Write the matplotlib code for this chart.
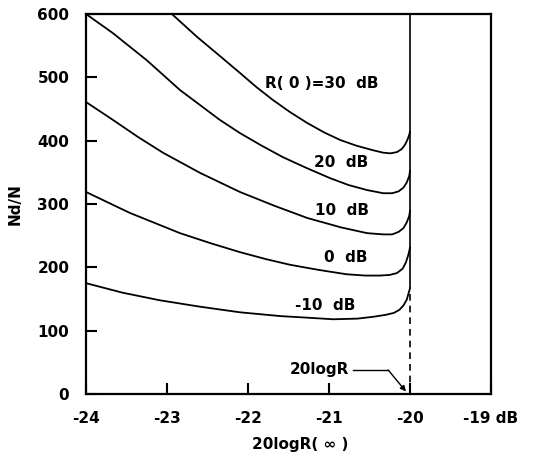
import matplotlib
matplotlib.use("Agg")
from matplotlib import pyplot as plt

# curve values: x = 20logR(inf) [dB], y = Nd/N
x_30 = [-22.94, -22.63, -22.35, -22.10, -21.90, -21.69, -21.48, -21.27, -21.06, -20.86,
        -20.66, -20.46, -20.33, -20.24, -20.16, -20.10, -20.06, -20.03, -20.01, -20.00]
y_30 = [600, 564, 534, 507, 485, 464, 445, 428, 413, 401,
        392, 385, 381, 380, 382, 387, 394, 402, 409, 414]

x_20 = [-24.0, -23.67, -23.25, -22.84, -22.35, -22.10, -21.83, -21.57, -21.28, -20.99,
        -20.76, -20.53, -20.33, -20.22, -20.14, -20.08, -20.04, -20.01, -20.00]
y_20 = [600, 570, 527, 480, 433, 412, 392, 374, 357, 341,
        330, 322, 317, 317, 320, 326, 334, 344, 352]

x_10 = [-24.0, -23.67, -23.36, -23.05, -22.59, -22.10, -21.67, -21.27, -20.85, -20.53,
        -20.33, -20.22, -20.14, -20.08, -20.04, -20.01, -20.00]
y_10 = [461, 433, 406, 381, 349, 319, 297, 278, 263, 254,
        252, 252, 256, 262, 271, 281, 289]

x_0 = [-24.0, -23.46, -22.84, -22.46, -22.10, -21.78, -21.48, -21.13, -20.78, -20.55,
       -20.37, -20.25, -20.16, -20.09, -20.05, -20.02, -20.00]
y_0 = [319, 286, 254, 238, 224, 213, 204, 196, 189, 187,
       187, 188, 191, 198, 208, 220, 231]

x_m10 = [-24.0, -23.55, -23.09, -22.60, -22.10, -21.60, -21.20, -20.95, -20.65, -20.45,
         -20.30, -20.20, -20.13, -20.08, -20.04, -20.02, -20.00]
y_m10 = [175, 160, 148, 138, 129, 123, 120, 118, 119, 122,
         125, 128, 133, 140, 149, 158, 167]

curve_labels = ["R( 0 )=30  dB", "20  dB", "10  dB", "0  dB", "-10  dB"]
label_x = [-21.79, -21.18, -21.17, -21.06, -21.42]
label_y = [490, 365, 289, 215, 139]

x_limit = -20.0
x_ticks = [-24, -23, -22, -21, -20, -19]
x_ticklabels = ["-24", "-23", "-22", "-21", "-20", "-19 dB"]
y_ticks = [0, 100, 200, 300, 400, 500, 600]
y_ticklabels = ["0", "100", "200", "300", "400", "500", "600"]

font = {"family": "DejaVu Sans", "weight": "bold", "size": 11}

fig = plt.figure(figsize=(5.5, 4.66), dpi=100)
ax = fig.add_axes([86 / 550, 72 / 466, 405 / 550, 380 / 466])

for xs, ys in [(x_30, y_30), (x_20, y_20), (x_10, y_10), (x_0, y_0), (x_m10, y_m10)]:
    ax.plot(xs, ys, color="black", linewidth=1.3, solid_joinstyle="round")

# limit line at 20logR: solid above the lowest curve, dashed below
ax.plot([x_limit, x_limit], [y_m10[-1], 600], color="black", linewidth=1.2)
ax.plot([x_limit, x_limit], [0, y_m10[-1]], color="black", linewidth=1.2,
        linestyle=(0, (4, 3)))

for txt, tx, ty in zip(curve_labels, label_x, label_y):
    ax.text(tx, ty, txt, ha="left", va="center", **font)

# "20logR" pointer
ax.text(-21.48, 38, "20logR", ha="left", va="center", **font)
ax.plot([-20.70, -20.27], [38, 38], color="black", linewidth=1.0)
ax.annotate("", xy=(-20.05, 4), xytext=(-20.27, 38),
            arrowprops=dict(arrowstyle="-|>", color="black", lw=1.0,
                            mutation_scale=8, shrinkA=0, shrinkB=0))

ax.set_xlim(-24, -19)
ax.set_ylim(0, 600)
ax.set_xticks(x_ticks)
ax.set_xticklabels(x_ticklabels, **font)
ax.set_yticks(y_ticks)
ax.set_yticklabels(y_ticklabels, **font)
ax.tick_params(direction="in", length=8, width=1.5, pad=12)
for s in ax.spines.values():
    s.set_linewidth(1.6)

fig.text(300 / 550, 1 - 445 / 466, "20logR( \u221e )", ha="center", va="center", **font)
fig.text(15 / 550, 1 - 204 / 466, "Nd/N", ha="center", va="center", rotation=90, **font)

plt.savefig("out.png", dpi=100)
